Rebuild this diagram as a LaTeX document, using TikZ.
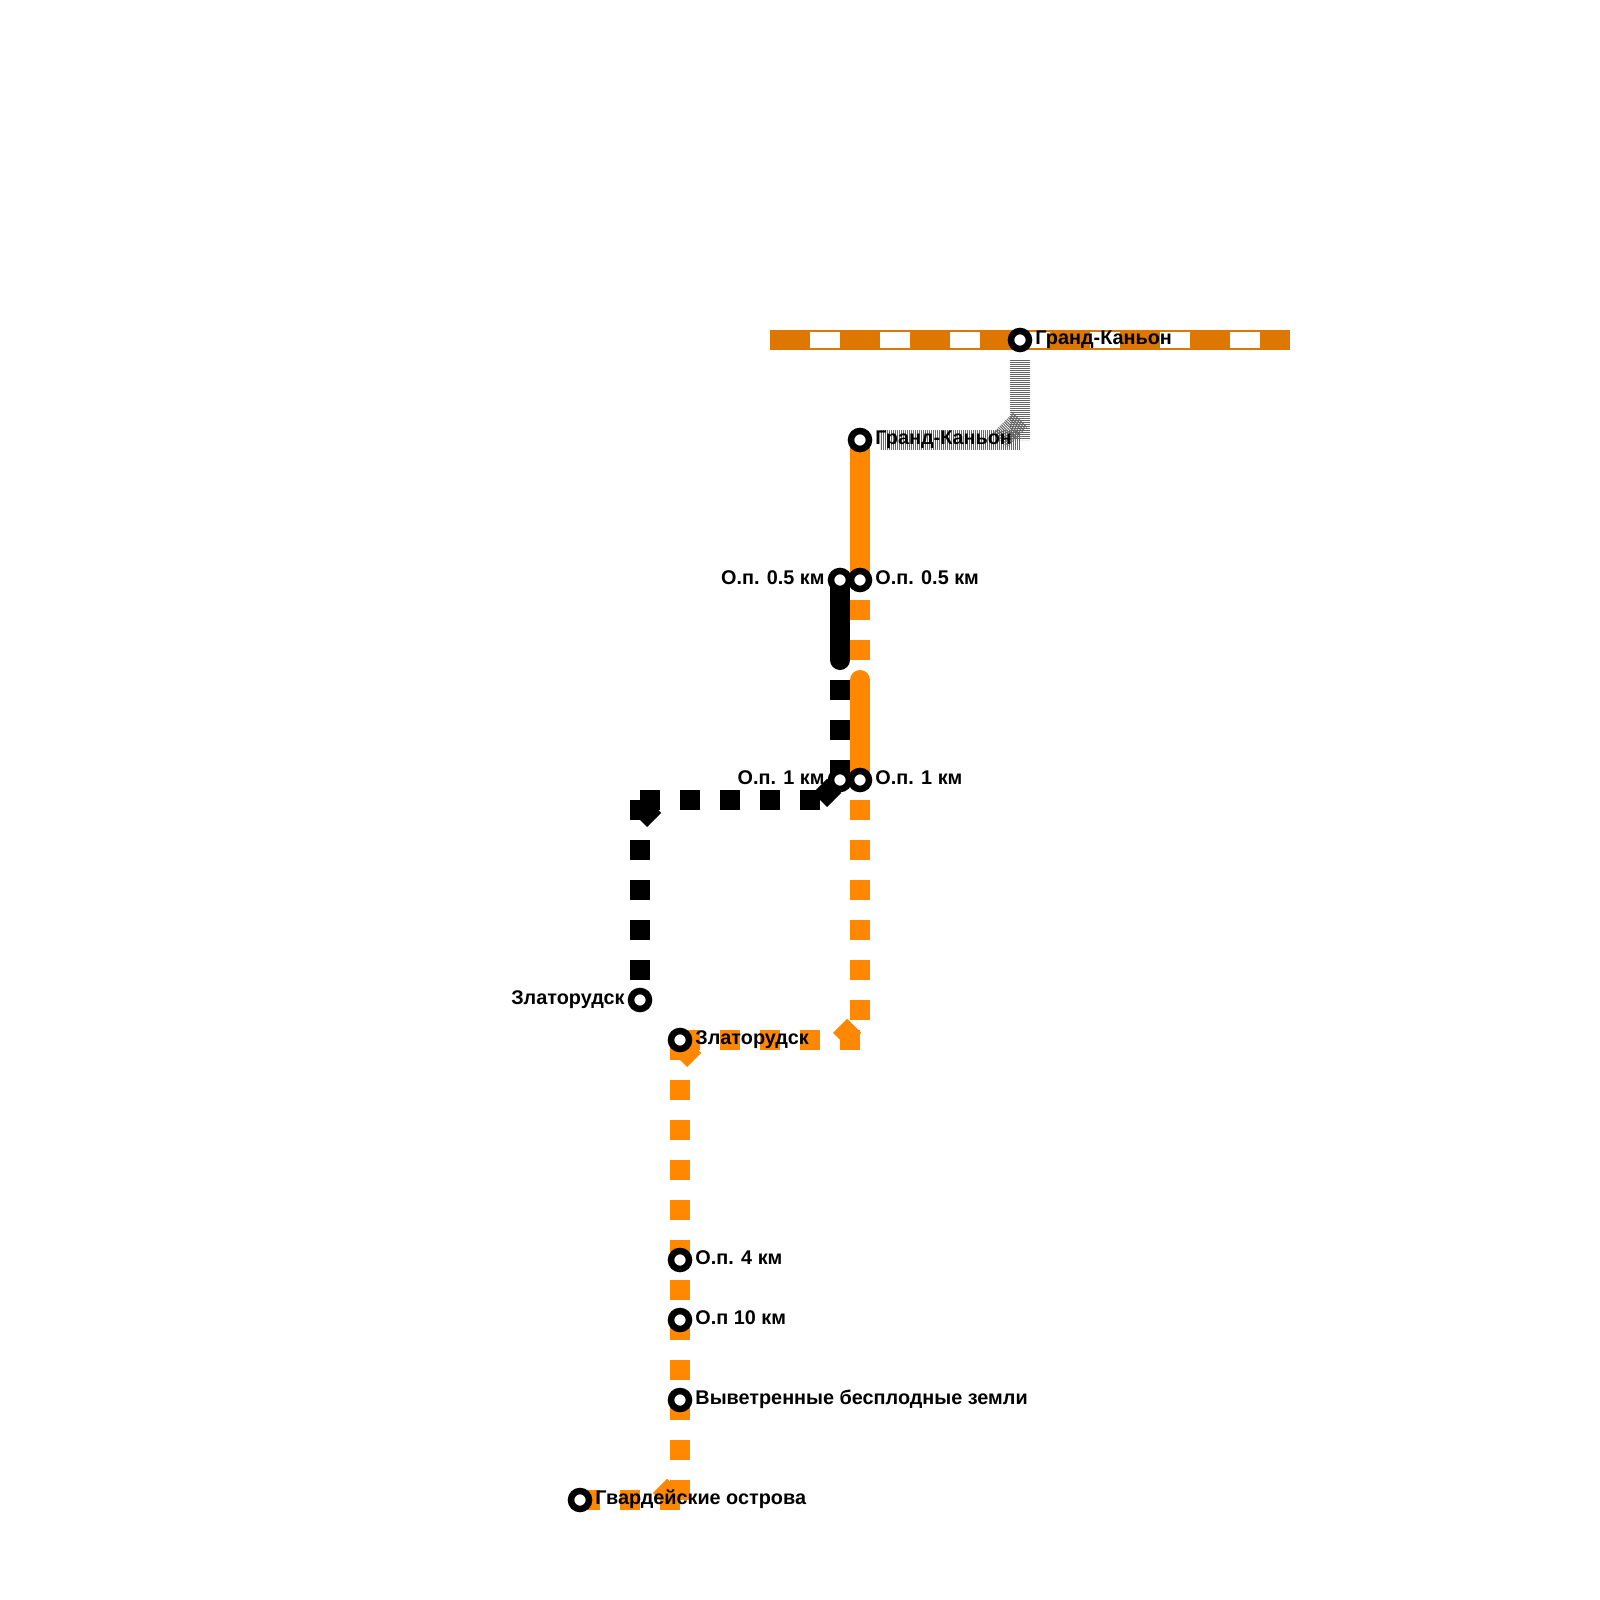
\documentclass[tikz,border=0pt]{standalone}
\usepackage{fontspec}
\setmainfont{Liberation Sans}
\usepackage{xcolor}
\usepackage{tikz}
\usetikzlibrary{positioning}
\definecolor{LineOrange}{HTML}{FF8800}
\definecolor{TopOrange}{HTML}{DD7700}
\definecolor{HatchGrey}{HTML}{666666}

\begin{document}
\begin{tikzpicture}[x=1bp, y=-1bp, node distance=3bp,
        station/.style={circle, draw=black, fill=white, line width=6.5bp, inner sep=0pt, minimum size=18bp},
        stlabel/.style={inner sep=0pt, text height=16.5bp, text depth=3bp, font=\bfseries\fontsize{19.9}{20}\selectfont, yshift=2bp},
        track/.style={line width=20bp},
        orangeline/.style={track, draw=LineOrange},
        blackline/.style={track, draw=black},
        dashon/.style={dash pattern=on 20bp off 20bp},
        dashoff/.style={dash pattern=on 20bp off 20bp, dash phase=20bp},
        bendcut/.style={dash pattern=on 20bp off 8.28bp, dash phase=20bp},
        hatch/.style={track, draw=HatchGrey, dash pattern=on 1bp off 1bp}
    ]
        \useasboundingbox (0,0) rectangle (1600,1600);

        % Free ends and bends
        \coordinate (top_a) at (770,340);
        \coordinate (top_b) at (1290,340);
        \coordinate (h_a) at (1020,360);
        \coordinate (h_b) at (1020,440);
        \coordinate (h_c) at (1020,420);
        \coordinate (h_d) at (1000,440);
        \coordinate (h_e) at (880,440);
        \coordinate (o_a) at (860,680);
        \coordinate (o_b) at (860,1020);
        \coordinate (o_c) at (840,1040);
        \coordinate (o_d) at (860,1040);
        \coordinate (o_e) at (700,1040);
        \coordinate (o_f) at (680,1060);
        \coordinate (o_g) at (680,1480);
        \coordinate (o_h) at (660,1500);
        \coordinate (o_i) at (680,1500);
        \coordinate (k_a) at (840,660);
        \coordinate (k_b) at (820,800);
        \coordinate (k_c) at (660,800);
        \coordinate (k_d) at (640,820);
        \coordinate (k_e) at (640,800);

        % Stations
        \path (1020,340) coordinate (p_gc1) (860,440) coordinate (p_gc2)
            (840,580) coordinate (p_km05l) (860,580) coordinate (p_km05r)
            (840,780) coordinate (p_km1l) (860,780) coordinate (p_km1r)
            (640,1000) coordinate (p_zl1) (680,1040) coordinate (p_zl2)
            (680,1260) coordinate (p_km4) (680,1320) coordinate (p_km10)
            (680,1400) coordinate (p_wind) (580,1500) coordinate (p_guard);

        % Top line
        \draw [track, draw=TopOrange] (top_a) -- (top_b);
        \draw [line width=16bp, draw=white, dash pattern=on 30bp off 40bp, dash phase=30bp] (top_a) -- (top_b);

        % Transfer
        \draw [hatch] (h_a) -- (h_b);
        \draw [hatch] (h_c) -- (h_d);
        \draw [hatch] (h_b) -- (h_e);

        % Orange line
        \draw [orangeline] (p_gc2) -- (p_km05r);
        \draw [orangeline, dashoff] (p_km05r) -- (o_a);
        \draw [orangeline, line cap=round] (o_a) -- (p_km1r);
        \draw [orangeline, dashoff] (p_km1r) -- (o_b);
        \draw [orangeline, bendcut] (o_b) -- (o_c);
        \draw [orangeline, dashon] (o_d) -- (p_zl2);
        \draw [orangeline, bendcut] (o_e) -- (o_f);
        \draw [orangeline, dashon] (p_zl2) -- (o_i);
        \draw [orangeline, bendcut] (o_g) -- (o_h);
        \draw [orangeline, dashon] (o_i) -- (p_guard);

        % Black line
        \draw [blackline, line cap=round] (p_km05l) -- (k_a);
        \draw [blackline, dashoff] (k_a) -- (p_km1l);
        \draw [blackline, bendcut] (p_km1l) -- (k_b);
        \draw [blackline, dashon] (k_b) -- (k_e);
        \draw [blackline, bendcut] (k_c) -- (k_d);
        \draw [blackline, dashon] (k_e) -- (p_zl1);

        \node [station] (s_gc1) at (p_gc1) {};
        \node [station] (s_gc2) at (p_gc2) {};
        \node [station] (s_km05l) at (p_km05l) {};
        \node [station] (s_km05r) at (p_km05r) {};
        \node [station] (s_km1l) at (p_km1l) {};
        \node [station] (s_km1r) at (p_km1r) {};
        \node [station] (s_zl1) at (p_zl1) {};
        \node [station] (s_zl2) at (p_zl2) {};
        \node [station] (s_km4) at (p_km4) {};
        \node [station] (s_km10) at (p_km10) {};
        \node [station] (s_wind) at (p_wind) {};
        \node [station] (s_guard) at (p_guard) {};

        % Labels
        \node [stlabel, right=of s_gc1] (t_gc1) {Гранд-Каньон};
        \node [stlabel, right=of s_gc2] (t_gc2) {Гранд-Каньон};
        \node [stlabel, left=of s_km05l] (t_km05l) {О.п. 0.5 км};
        \node [stlabel, right=of s_km05r] (t_km05r) {О.п. 0.5 км};
        \node [stlabel, left=of s_km1l] (t_km1l) {О.п. 1 км};
        \node [stlabel, right=of s_km1r] (t_km1r) {О.п. 1 км};
        \node [stlabel, left=of s_zl1] (t_zl1) {Златорудск};
        \node [stlabel, right=of s_zl2] (t_zl2) {Златорудск};
        \node [stlabel, right=of s_km4] (t_km4) {О.п. 4 км};
        \node [stlabel, right=of s_km10] (t_km10) {О.п 10 км};
        \node [stlabel, right=of s_wind] (t_wind) {Выветренные бесплодные земли};
        \node [stlabel, right=of s_guard] (t_guard) {Гвардейские острова};
    \end{tikzpicture}
\end{document}
